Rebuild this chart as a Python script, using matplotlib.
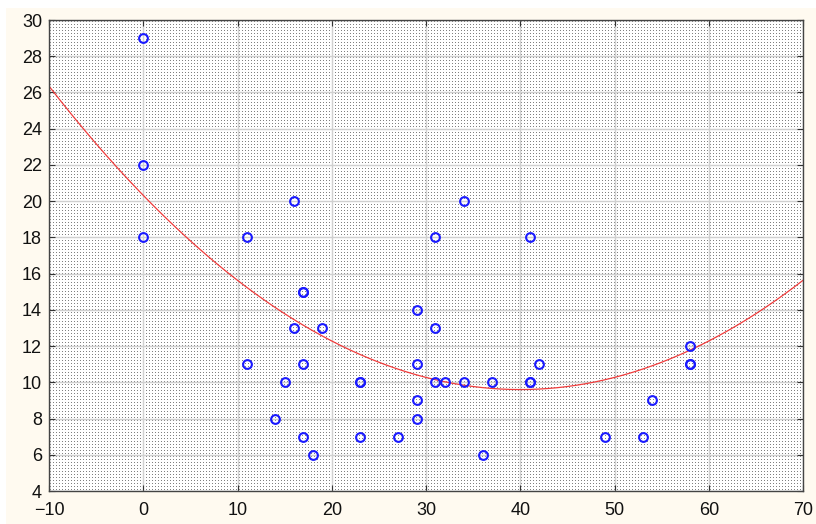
import numpy as np
import matplotlib
matplotlib.use("Agg")
import matplotlib.pyplot as plt
from matplotlib.patches import Rectangle

# data
x_vals = [0, 0, 0, 11, 11, 14, 15, 16, 16, 17, 17, 17, 17, 18, 19,
          23, 23, 23, 27, 29, 29, 29, 29, 31, 31, 31, 32, 34, 34, 36, 37,
          41, 41, 41, 42, 49, 53, 54, 58, 58, 58]
y_vals = [29, 22, 18, 18, 11, 8, 10, 20, 13, 15, 15, 11, 7, 6, 13,
          10, 10, 7, 7, 14, 11, 9, 8, 18, 13, 10, 10, 20, 10, 6, 10,
          18, 10, 10, 11, 7, 7, 9, 12, 11, 11]
# quadratic fit: y = a*(x - h)^2 + k
fit_a, fit_h, fit_k = 0.0067, 40.0, 9.6
x_ticks = [-10, 0, 10, 20, 30, 40, 50, 60, 70]
y_ticks = [4, 6, 8, 10, 12, 14, 16, 18, 20, 22, 24, 26, 28, 30]

W, H = 816, 524
fig = plt.figure(figsize=(W / 100, H / 100), dpi=100, facecolor="white")
fig.patches.append(Rectangle((6 / W, 0), 1, 1 - 8 / H, transform=fig.transFigure,
                             facecolor="#fffaf0", edgecolor="none", zorder=-10))

L, R, T, B = 49, 803, 20, 491
ax = fig.add_axes([L / W, (H - B) / H, (R - L) / W, (B - T) / H])
ax.set_xlim(-10, 70)
ax.set_ylim(4, 30)

# dotted background texture
tw, th = R - L, B - T
tex = np.ones((th, tw))
tex[1::3, 1::3] = 0.5
ax.imshow(tex, cmap="gray", vmin=0, vmax=1, extent=(-10, 70, 4, 30),
          aspect="auto", interpolation="nearest", zorder=0)

ax.grid(True, color="#d0d0d0", lw=1.0, zorder=1)
ax.set_axisbelow(False)

xs = np.linspace(-10, 70, 400)
ax.plot(xs, fit_a * (xs - fit_h) ** 2 + fit_k, color="#f03c3c", lw=0.9, zorder=3)

ax.plot(x_vals, y_vals, linestyle="none", marker="o", ms=6.3, mfc="none",
        mec="#1a1aff", mew=1.5, zorder=4)

ax.set_xticks(x_ticks)
ax.set_yticks(y_ticks)
ax.tick_params(direction="in", top=True, right=True, length=4, width=0.8,
               colors="#333333", labelcolor="#111111")
ax.tick_params(axis="y", pad=5)
ax.tick_params(axis="x", pad=8)
for lab in ax.get_xticklabels() + ax.get_yticklabels():
    lab.set_fontfamily("Liberation Sans")
    lab.set_fontsize(13)
for s in ax.spines.values():
    s.set_color("#444444")
    s.set_linewidth(1.0)
    s.set_zorder(5)

fig.savefig("out.png", dpi=100, facecolor=fig.get_facecolor())
